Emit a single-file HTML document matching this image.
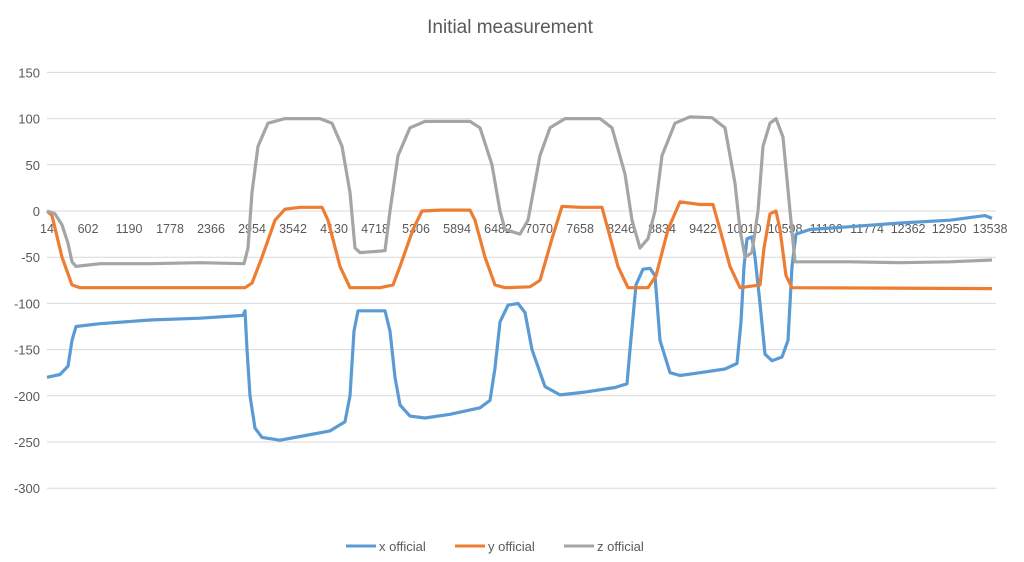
<!DOCTYPE html>
<html><head><meta charset="utf-8"><style>
body{margin:0;background:#fff;font-family:"Liberation Sans",sans-serif;}
svg text{font-family:"Liberation Sans",sans-serif;fill:#595959;}
</style></head><body>
<svg id="chart" width="1024" height="557" xmlns="http://www.w3.org/2000/svg">
<text x="510" y="33" font-size="19" text-anchor="middle">Initial measurement</text>
<g id="grid"></g><g id="ylabels"></g><g id="xlabels"></g><g id="series"></g>
<g>
 <g><line x1="346" y1="546" x2="376" y2="546" stroke="#5b9bd5" stroke-width="3"/><text x="379" y="551" font-size="13">x official</text></g>
 <g><line x1="455" y1="546" x2="485" y2="546" stroke="#ed7d31" stroke-width="3"/><text x="488" y="551" font-size="13">y official</text></g>
 <g><line x1="564" y1="546" x2="594" y2="546" stroke="#a5a5a5" stroke-width="3"/><text x="597" y="551" font-size="13">z official</text></g>
</g>
</svg>
<script>
const yTicks=[150,100,50,0,-50,-100,-150,-200,-250,-300];
const xTickLabels=[14,602,1190,1778,2366,2954,3542,4130,4718,5306,5894,6482,7070,7658,8246,8834,9422,10010,10598,11186,11774,12362,12950,13538];
const xIdx=[14,200,315,372,430,774,1491,2208,2825,2853,2882,2925,2997,3097,3355,3642,4072,4287,4359,4416,4474,4861,4933,5004,5076,5219,5435,5793,6223,6367,6438,6510,6625,6768,6869,6969,7155,7370,7729,8159,8331,8374,8460,8561,8661,8733,8804,8948,9091,9378,9737,9909,9966,10009,10052,10124,10167,10238,10310,10410,10554,10640,10697,10755,10955,11529,12246,12963,13465,13565];
const xVal=[-180,-177,-168,-140,-125,-122,-118,-116,-113,-108,-150,-200,-235,-245,-248,-244,-238,-228,-200,-130,-108,-108,-130,-180,-210,-222,-224,-220,-213,-205,-170,-120,-102,-100,-110,-150,-190,-199,-196,-191,-187,-150,-80,-63,-62,-70,-140,-175,-178,-175,-171,-165,-120,-60,-30,-28,-50,-100,-155,-162,-158,-140,-60,-25,-20,-17,-13,-10,-5,-8];
const yIdx=[14,86,229,372,487,2853,2954,3097,3284,3427,3642,3957,4044,4216,4359,4789,4976,5076,5262,5391,5650,6080,6152,6295,6438,6582,6940,7084,7256,7399,7657,7973,8059,8202,8346,8632,8747,8919,9091,9378,9564,9665,9808,9952,10238,10296,10382,10468,10525,10611,10697,13565];
const yVal=[0,-5,-50,-80,-83,-83,-78,-50,-10,2,4,4,-10,-60,-83,-83,-80,-60,-20,0,1,1,-10,-50,-80,-83,-82,-75,-30,5,4,4,-20,-60,-83,-83,-70,-20,10,7,7,-20,-60,-83,-80,-40,-3,0,-20,-70,-83,-84];
const zIdx=[14,129,229,315,372,430,774,1491,2208,2839,2896,2954,3040,3183,3427,3929,4101,4244,4359,4431,4502,4861,4933,5047,5219,5435,6080,6223,6395,6510,6582,6797,6912,7084,7227,7442,7944,8116,8303,8403,8518,8632,8733,8833,9020,9235,9550,9737,9880,9952,10023,10124,10210,10281,10382,10468,10568,10669,10740,10955,11529,12246,12963,13565];
const zVal=[0,-3,-15,-35,-55,-60,-57,-57,-56,-57,-40,20,70,95,100,100,95,70,20,-40,-45,-43,0,60,90,97,97,90,50,0,-20,-25,-10,60,90,100,100,90,40,-10,-40,-30,0,60,95,102,101,90,30,-20,-50,-45,0,70,95,100,80,0,-55,-55,-55,-56,-55,-53];
const NS="http://www.w3.org/2000/svg";
const X0=47,X1=992,I0=14,I1=13565;
function sx(i){return X0+(i-I0)/(I1-I0)*(X1-X0);}
function sy(v){return 211-v*0.924;}
function mk(t,a,p){const e=document.createElementNS(NS,t);for(const k in a)e.setAttribute(k,a[k]);p.appendChild(e);return e;}
const grid=document.getElementById('grid'),yl=document.getElementById('ylabels'),xl=document.getElementById('xlabels'),sg=document.getElementById('series');
yTicks.forEach(v=>{
 const l=mk('line',{x1:47,x2:996,y1:sy(v),y2:sy(v),stroke:'#d9d9d9','stroke-width':1},grid);
 
 
 const t=mk('text',{x:40,y:sy(v)+5,'font-size':13,'text-anchor':'end'},yl);
 t.textContent=v;
 
 
});
xTickLabels.forEach((v,k)=>{
 const t=mk('text',{x:sx(v),y:233,'font-size':12.5,'text-anchor':'middle'},xl);
 t.textContent=v;
 
 
});
function draw(ix,vals,col,name){
 const pts=ix.map((i,k)=>sx(i).toFixed(1)+','+sy(vals[k]).toFixed(1)).join(' ');
 const p=mk('polyline',{points:pts,fill:'none',stroke:col,'stroke-width':3.2,'stroke-linejoin':'round'},sg);
 
 
}
draw(xIdx,xVal,'#5b9bd5','series-x-official');
draw(yIdx,yVal,'#ed7d31','series-y-official');
draw(zIdx,zVal,'#a5a5a5','series-z-official');
</script>
</body></html>
